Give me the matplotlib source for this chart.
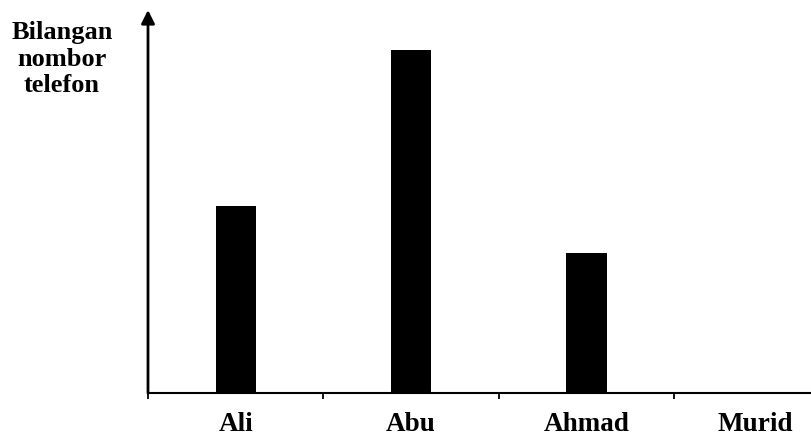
import matplotlib
matplotlib.use("Agg")
import matplotlib.pyplot as plt
import matplotlib.transforms as mtransforms
import numpy as np

# data (no scale shown, relative heights)
names = ["Ali", "Abu", "Ahmad", "Murid"]
phones = [6, 11, 4.5, 0]
ylabel = "Bilangan\nnombor\ntelefon"

plt.rcParams['font.family'] = ['Liberation Serif', 'DejaVu Serif']

fig = plt.figure(figsize=(8.11, 4.4), dpi=100)
ax = fig.add_axes([148/811, 47/440, 663/811, 383/440])

x = np.arange(len(names)) + 0.5
ax.bar(x, phones, width=0.23, color='black')

ax.set_xlim(0, 3.78)
ax.set_ylim(0, 12.3)

for s in ['top', 'right', 'left']:
    ax.spines[s].set_visible(False)
ax.spines['bottom'].set_linewidth(1.5)

# y axis with arrow
ax.annotate('', xy=(0, 1.0), xytext=(0, 0), xycoords='axes fraction',
            arrowprops=dict(arrowstyle='-|>', lw=2, color='black',
                            mutation_scale=20, shrinkA=0, shrinkB=0))

ax.set_xticks([0, 1, 2, 3])
ax.set_xticklabels([])
ax.tick_params(axis='x', which='major', direction='out', length=4, width=1.3)
ax.set_xticks(x, minor=True)
ax.set_xticklabels(names, minor=True, fontsize=19.5, fontweight='bold')
ax.tick_params(axis='x', which='minor', length=0, pad=14)
ax.set_yticks([])

# last label sits a bit left in the original
lbl = ax.get_xticklabels(minor=True)[-1]
lbl.set_transform(lbl.get_transform() +
                  mtransforms.ScaledTranslation(-0.07, 0, fig.dpi_scale_trans))

fig.text(62/811, 1 - 59/440, ylabel, ha='center', va='center',
         fontsize=19, fontweight='bold', linespacing=1.2)

plt.savefig("out.png", dpi=100)
